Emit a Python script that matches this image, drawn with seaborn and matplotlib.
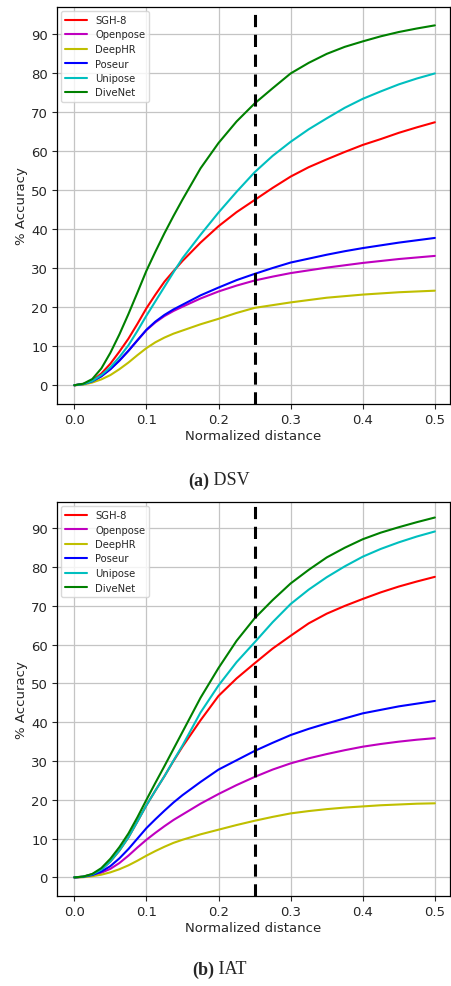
import numpy as np
import pandas as pd
import matplotlib
matplotlib.use("Agg")
import matplotlib.pyplot as plt
import seaborn as sns

# ---------------- data ----------------
distance = [0.0, 0.0125, 0.025, 0.0375, 0.05, 0.0625, 0.075, 0.0875, 0.1, 0.1125, 0.125, 0.1375, 0.15,
            0.175, 0.2, 0.225, 0.25, 0.275, 0.3, 0.325, 0.35, 0.375, 0.4, 0.425, 0.45, 0.475, 0.5]

methods = ["SGH-8", "Openpose", "DeepHR", "Poseur", "Unipose", "DiveNet"]
colors = ["r", "m", "y", "b", "c", "g"]

# (a) DSV
dsv_sgh8 = [0, 0.3, 1.2, 3.0, 5.5, 8.6, 11.9, 15.7, 19.7, 23.2, 26.5, 29.2, 31.8,
            36.5, 40.7, 44.3, 47.4, 50.5, 53.4, 55.8, 57.8, 59.7, 61.5, 63, 64.6, 66, 67.3]
dsv_openpose = [0, 0.3, 1.0, 2.3, 4.1, 6.3, 8.8, 11.5, 14.1, 16.1, 17.7, 19.0, 20.1,
                22.2, 24, 25.5, 26.8, 27.8, 28.7, 29.4, 30.1, 30.7, 31.3, 31.8, 32.3, 32.7, 33.1]
dsv_deephr = [0, 0.15, 0.7, 1.5, 2.6, 4.1, 5.8, 7.7, 9.5, 11.0, 12.2, 13.2, 14.0,
              15.6, 17, 18.5, 19.8, 20.5, 21.2, 21.8, 22.4, 22.8, 23.2, 23.5, 23.8, 24, 24.2]
dsv_poseur = [0, 0.3, 1.0, 2.3, 4.1, 6.3, 8.8, 11.5, 14.2, 16.3, 18.0, 19.4, 20.6,
              23, 25, 26.9, 28.5, 30, 31.4, 32.4, 33.4, 34.3, 35.1, 35.8, 36.5, 37.1, 37.7]
dsv_unipose = [0, 0.3, 1.1, 2.6, 4.6, 7.2, 10.2, 13.9, 17.8, 21.5, 25.2, 28.9, 32.5,
               38.5, 44.2, 49.5, 54.5, 58.7, 62.3, 65.5, 68.3, 71, 73.3, 75.2, 77, 78.5, 79.8]
dsv_divenet = [0, 0.4, 1.6, 4.3, 8.3, 13, 18.2, 23.7, 29.3, 34.2, 38.9, 43.3, 47.5,
               55.5, 62, 67.5, 72.1, 76, 79.8, 82.5, 84.8, 86.6, 88, 89.3, 90.4, 91.3, 92.1]

# (b) IAT
iat_sgh8 = [0, 0.2, 0.8, 2.0, 4.1, 6.9, 10.3, 14.4, 18.6, 22.4, 26.1, 30.0, 33.7,
            40.5, 46.8, 51.3, 55.2, 59, 62.3, 65.5, 68, 70, 71.8, 73.5, 75, 76.3, 77.5]
iat_openpose = [0, 0.1, 0.5, 1.2, 2.2, 3.7, 5.6, 7.7, 9.7, 11.5, 13.2, 14.8, 16.2,
                19.0, 21.5, 23.8, 25.9, 27.8, 29.4, 30.7, 31.8, 32.8, 33.7, 34.4, 35, 35.5, 35.9]
iat_deephr = [0, 0.05, 0.3, 0.7, 1.3, 2.1, 3.1, 4.3, 5.6, 6.8, 7.9, 8.9, 9.7,
              11.1, 12.3, 13.5, 14.6, 15.6, 16.5, 17.1, 17.6, 18, 18.3, 18.6, 18.8, 19, 19.1]
iat_poseur = [0, 0.15, 0.6, 1.5, 2.9, 4.9, 7.3, 10.0, 12.7, 15.0, 17.2, 19.3, 21.2,
              24.6, 27.8, 30.2, 32.6, 34.7, 36.7, 38.3, 39.7, 41, 42.3, 43.2, 44.1, 44.8, 45.5]
iat_unipose = [0, 0.2, 0.8, 2.0, 4.1, 6.9, 10.3, 14.4, 18.6, 22.4, 26.1, 30.1, 34.0,
               42.5, 49.5, 55.5, 60.6, 65.8, 70.5, 74.2, 77.4, 80.2, 82.7, 84.7, 86.4, 87.9, 89.2]
iat_divenet = [0, 0.2, 0.9, 2.4, 4.8, 7.8, 11.3, 15.5, 20, 24.4, 28.7, 33.1, 37.5,
               46.3, 54, 61, 66.8, 71.5, 75.8, 79.3, 82.5, 85, 87.2, 88.9, 90.3, 91.6, 92.8]

x_ticks = [0.0, 0.1, 0.2, 0.3, 0.4, 0.5]
y_ticks = [0, 10, 20, 30, 40, 50, 60, 70, 80, 90]
threshold = 0.25


def long_frame(series):
    rows = []
    for name, vals in zip(methods, series):
        for d, v in zip(distance, vals):
            rows.append({"distance": d, "accuracy": v, "method": name})
    return pd.DataFrame(rows)


df_dsv = long_frame([dsv_sgh8, dsv_openpose, dsv_deephr, dsv_poseur, dsv_unipose, dsv_divenet])
df_iat = long_frame([iat_sgh8, iat_openpose, iat_deephr, iat_poseur, iat_unipose, iat_divenet])

# ---------------- style ----------------
sns.set_style("ticks", {"axes.grid": True, "grid.color": "#c4c4c4", "axes.edgecolor": "black"})
plt.rcParams["font.family"] = ["DejaVu Sans"]

fig = plt.figure(figsize=(4.52, 9.87), dpi=100)
ax1 = fig.add_axes([57 / 452, 1 - 405 / 987, (450 - 57) / 452, (405 - 8) / 987])
ax2 = fig.add_axes([57 / 452, 1 - 897 / 987, (450 - 57) / 452, (897 - 503) / 987])

palette = dict(zip(methods, colors))

for ax, df in [(ax1, df_dsv), (ax2, df_iat)]:
    sns.lineplot(data=df, x="distance", y="accuracy", hue="method", hue_order=methods,
                 palette=palette, linewidth=1.5, ax=ax, legend=True)
    ax.axvline(threshold, color="black", linestyle=(0, (4, 2.5)), linewidth=2.2)
    ax.set_xticks(x_ticks)
    ax.set_yticks(y_ticks)
    ax.set_xticklabels([f"{t:.1f}" for t in x_ticks])
    ax.set_xlim(-0.024, 0.521)
    ax.set_ylim(-4.8, 96.8)
    ax.set_xlabel("Normalized distance", fontsize=9.5, labelpad=2)
    ax.set_ylabel("% Accuracy", fontsize=9.5, labelpad=2)
    ax.tick_params(labelsize=9.5, length=3.5, width=0.8, pad=3)
    ax.grid(True, color="#c4c4c4", linewidth=0.9)
    for s in ax.spines.values():
        s.set_linewidth(0.9)
    sns.move_legend(ax, "upper left", title=None, fontsize=7.2, frameon=True,
                    handlelength=2.2, labelspacing=0.45, borderaxespad=0.4,
                    framealpha=0.8, edgecolor="#d0d0d0")

serif = ["Liberation Serif", "DejaVu Serif"]
fig.text(209 / 452, 1 - 481 / 987, "(a)", family=serif, weight="bold", fontsize=13, ha="right", va="center")
fig.text(209 / 452, 1 - 481 / 987, " DSV", family=serif, fontsize=13, ha="left", va="center")
fig.text(214 / 452, 1 - 970 / 987, "(b)", family=serif, weight="bold", fontsize=13, ha="right", va="center")
fig.text(214 / 452, 1 - 970 / 987, " IAT", family=serif, fontsize=13, ha="left", va="center")

fig.savefig("out.png", dpi=100)
